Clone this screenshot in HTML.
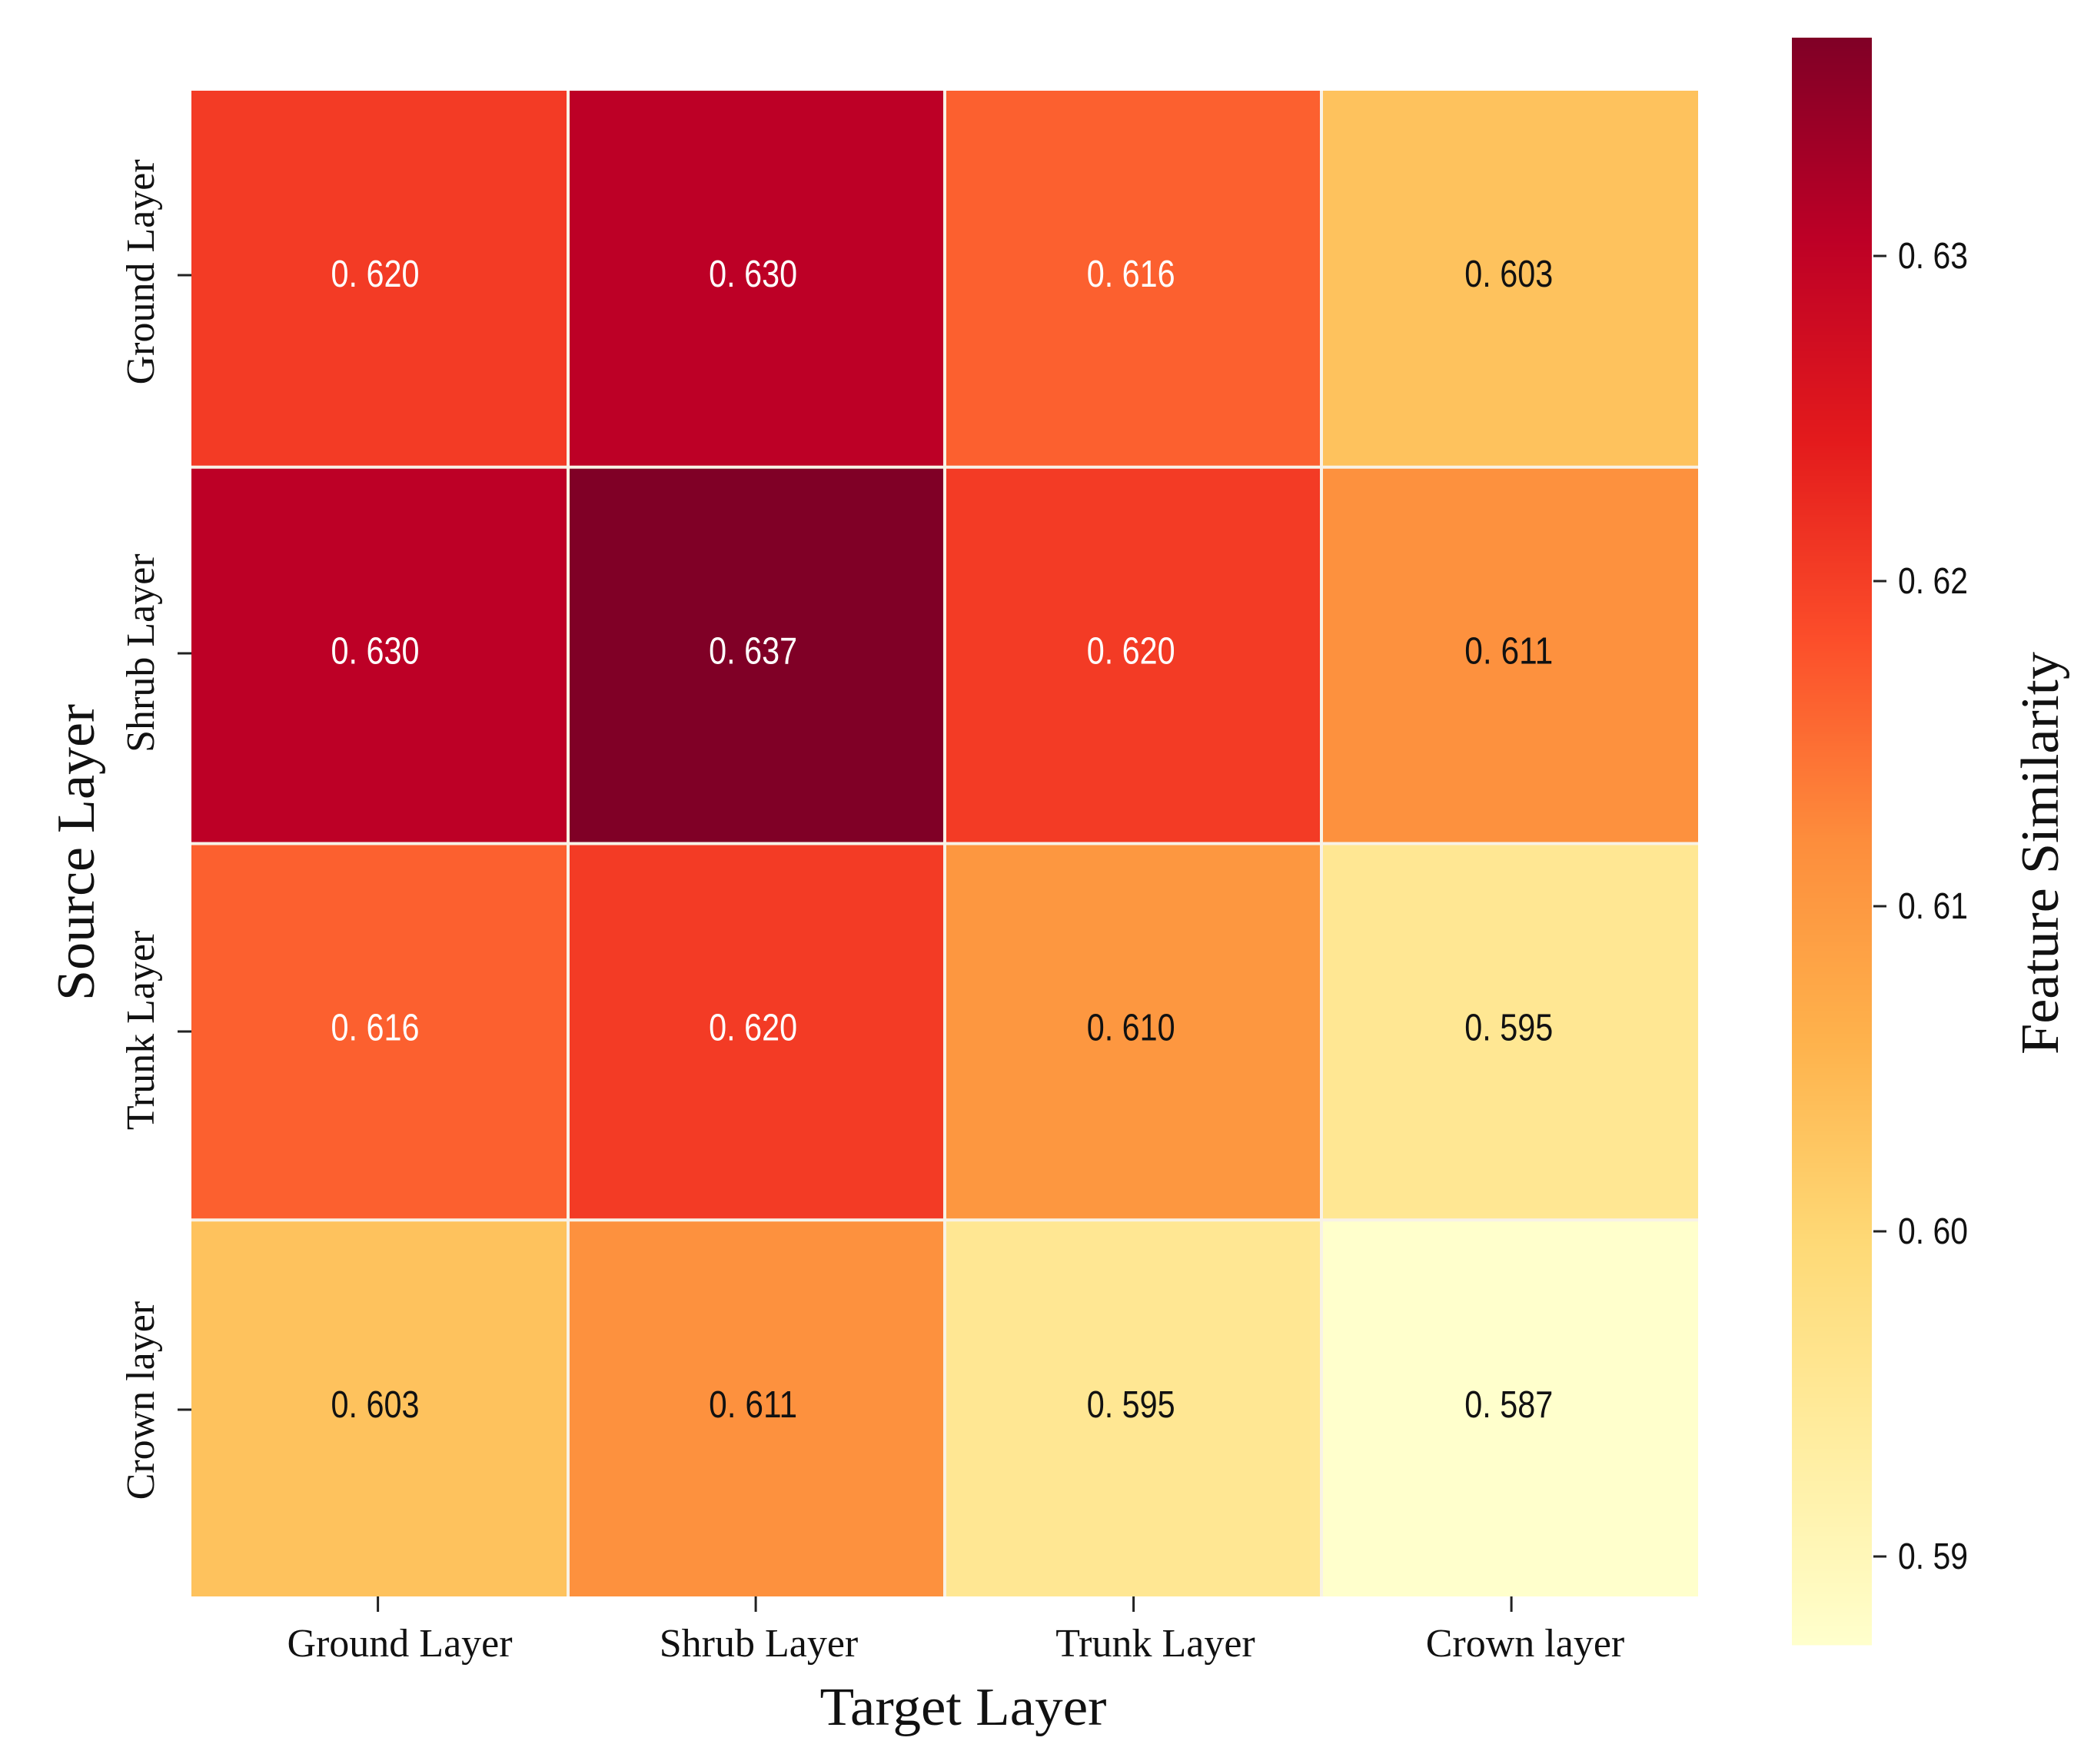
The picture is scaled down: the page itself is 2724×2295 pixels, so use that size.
<!DOCTYPE html>
<html lang="en">
<head>
<meta charset="utf-8">
<title>Feature Similarity Heatmap</title>
<style>
  html, body { margin: 0; padding: 0; background: #ffffff; }
  svg { display: block; }
  .serif { font-family: "Liberation Serif", serif; fill: #111; }
  .sans { font-family: "Liberation Sans", sans-serif; }
</style>
</head>
<body>
<svg id="chart" xmlns="http://www.w3.org/2000/svg" width="2724" height="2295" viewBox="0 0 2724 2295">
  <rect x="0" y="0" width="2724" height="2295" fill="#ffffff"/>
  <g id="cells"></g>
  <g id="grid"></g>
  <g id="cell-labels"></g>
  <g id="x-axis"></g>
  <g id="y-axis"></g>
  <g id="colorbar"></g>
  <text class="serif" x="1253" y="2244" font-size="70" text-anchor="middle" textLength="373" lengthAdjust="spacingAndGlyphs">Target Layer</text>
  <text class="serif" transform="translate(122,1109) rotate(-90)" x="0" y="0" font-size="70" text-anchor="middle" textLength="386" lengthAdjust="spacingAndGlyphs">Source Layer</text>
  <text class="serif" transform="translate(2677,1110) rotate(-90)" x="0" y="0" font-size="70" text-anchor="middle" textLength="524" lengthAdjust="spacingAndGlyphs">Feature Similarity</text>
</svg>
<script>
var targetLabels = ['Ground Layer', 'Shrub Layer', 'Trunk Layer', 'Crown layer'];
var sourceLabels = ['Ground Layer', 'Shrub Layer', 'Trunk Layer', 'Crown layer'];
var groundRow = [0.620, 0.630, 0.616, 0.603];
var shrubRow = [0.630, 0.637, 0.620, 0.611];
var trunkRow = [0.616, 0.620, 0.610, 0.595];
var crownRow = [0.603, 0.611, 0.595, 0.587];
var colorbarTicks = [0.59, 0.60, 0.61, 0.62, 0.63];
var colorStops = ['#ffffcc', '#ffeda0', '#fed976', '#feb24c', '#fd8d3c', '#fc4e2a', '#e31a1c', '#bd0026', '#800026'];

var rows = [groundRow, shrubRow, trunkRow, crownRow];
var NS = 'http://www.w3.org/2000/svg';
var plot = { left: 249, right: 2209, top: 118, bottom: 2077 };
var bar = { left: 2331, right: 2435, top: 49, bottom: 2138 };
var colorMin = 0.587, colorMax = 0.6362;
var xLabelShift = [26, 3, 29, 20];
var yLabelShift = [-9, -3, -2, -10];

function hexToRgb(h) {
  return [parseInt(h.substr(1, 2), 16), parseInt(h.substr(3, 2), 16), parseInt(h.substr(5, 2), 16)];
}
function ramp(u) {
  var t = Math.max(0, Math.min(1, u)) * (colorStops.length - 1);
  var i = Math.min(Math.floor(t), colorStops.length - 2);
  var f = t - i;
  var a = hexToRgb(colorStops[i]), b = hexToRgb(colorStops[i + 1]);
  return 'rgb(' + Math.round(a[0] + (b[0] - a[0]) * f) + ',' + Math.round(a[1] + (b[1] - a[1]) * f) + ',' + Math.round(a[2] + (b[2] - a[2]) * f) + ')';
}
function colorAt(v) { return ramp((v - colorMin) / (colorMax - colorMin)); }
function xBand(i) { return plot.left + (plot.right - plot.left) * i / targetLabels.length; }
function yBand(i) { return plot.top + (plot.bottom - plot.top) * i / rows.length; }
function xTick(i) { return 491.6 + i * 491.5; }
function yTick(i) { return 358 + i * 492; }
function xValueLabel(i) { return 488 + i * 491.6; }
function yValueLabel(i) { return 358 + i * 490.3; }
function barY(v) { return 333 + (0.63 - v) * 42300; }
function make(tag, attrs, parent, text) {
  var el = document.createElementNS(NS, tag);
  for (var k in attrs) el.setAttribute(k, attrs[k]);
  if (text !== undefined) el.textContent = text;
  parent.appendChild(el);
  return el;
}
function spaced(v, digits) { return v.toFixed(digits).replace('.', '. '); }

var cellsG = document.getElementById('cells');
var gridG = document.getElementById('grid');
var labelsG = document.getElementById('cell-labels');
var xG = document.getElementById('x-axis');
var yG = document.getElementById('y-axis');
var barG = document.getElementById('colorbar');

rows.forEach(function (row, r) {
  row.forEach(function (v, c) {
    var x0 = xBand(c), y0 = yBand(r);
    var w = xBand(c + 1) - x0, h = yBand(r + 1) - y0;
    var cell = make('rect', { x: x0, y: y0, width: w, height: h, fill: colorAt(v) }, cellsG);
    
    
    var dark = (v - colorMin) / (colorMax - colorMin) > 0.5;
    var label = make('text', {
      x: xValueLabel(c), y: yValueLabel(r) + 15, 'font-size': 49, 'text-anchor': 'middle',
      'class': 'sans', fill: dark ? '#ffffff' : '#111111', textLength: 115, lengthAdjust: 'spacingAndGlyphs'
    }, labelsG, spaced(v, 3));
    
    
  });
});

for (var gi = 1; gi < targetLabels.length; gi++) {
  var vLine = make('rect', { x: xBand(gi) - 2, y: plot.top, width: 4, height: plot.bottom - plot.top, fill: '#f8f2e6' }, gridG);
  
  
}
for (var gj = 1; gj < rows.length; gj++) {
  var hLine = make('rect', { x: plot.left, y: yBand(gj) - 2, width: plot.right - plot.left, height: 4, fill: '#f8f2e6' }, gridG);
  
  
}

targetLabels.forEach(function (name, i) {
  var cx = (xBand(i) + xBand(i + 1)) / 2;
  var tick = make('rect', { x: xTick(i) - 1.5, y: plot.bottom, width: 3, height: 20, fill: '#222' }, xG);
  
  
  var lab = make('text', { x: cx + xLabelShift[i], y: 2155, 'font-size': 52, 'text-anchor': 'middle', 'class': 'serif' }, xG, name);
  
  
});

sourceLabels.forEach(function (name, i) {
  var cy = (yBand(i) + yBand(i + 1)) / 2;
  var tick = make('rect', { x: 231, y: yTick(i) - 1.5, width: 18, height: 3, fill: '#222' }, yG);
  
  
  var lab = make('text', { transform: 'translate(200,' + (cy + yLabelShift[i]) + ') rotate(-90)', x: 0, y: 0, 'font-size': 52, 'text-anchor': 'middle', 'class': 'serif' }, yG, name);
  
  
});

for (var yy = bar.top; yy < bar.bottom; yy += 3) {
  var strip = make('rect', { x: bar.left, y: yy, width: bar.right - bar.left, height: 3.5, fill: ramp((bar.bottom - yy - 1.5) / (bar.bottom - bar.top)) }, barG);
  
  
}
colorbarTicks.forEach(function (v) {
  var y = barY(v);
  var tick = make('rect', { x: 2437, y: y - 1.5, width: 17, height: 3, fill: '#222' }, barG);
  
  
  var lab = make('text', { x: 2469, y: y + 16, 'font-size': 48, 'class': 'sans', fill: '#111', textLength: 91, lengthAdjust: 'spacingAndGlyphs' }, barG, spaced(v, 2));
  
  
});
</script>
</body>
</html>
